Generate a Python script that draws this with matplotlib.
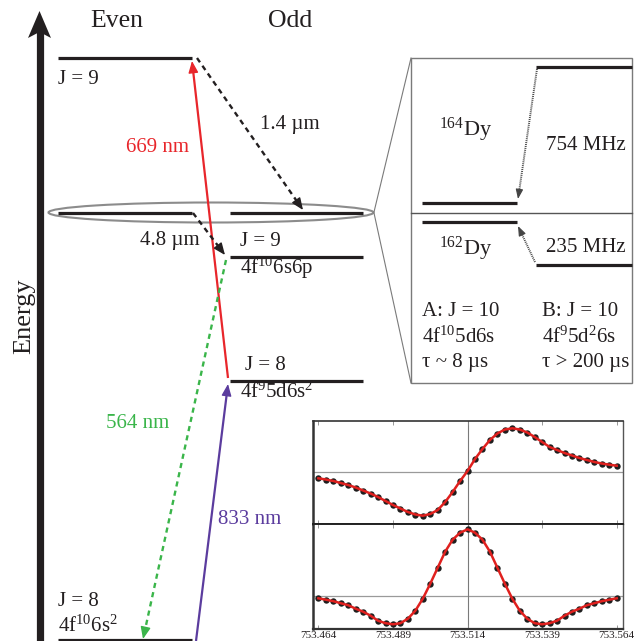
import numpy as np
import matplotlib
matplotlib.use('Agg')
import matplotlib.pyplot as plt
from matplotlib.patches import Ellipse, Rectangle, Polygon

plt.rcParams['font.family'] = 'Liberation Serif'
plt.rcParams['mathtext.fontset'] = 'custom'
plt.rcParams['mathtext.rm'] = 'Liberation Serif'
plt.rcParams['mathtext.it'] = 'Liberation Serif:italic'
plt.rcParams['mathtext.default'] = 'rm'

INK = '#231f20'
RED = '#e8262b'
GREEN = '#3ab54a'
PURPLE = '#5b3c9e'
GRAY = '#7a7a7a'

W, H = 637, 641

# energy levels of the diagram (x from, x to, y), y in pixels from top
level_x0 = [58, 58, 230, 230, 230, 58]
level_x1 = [192, 192, 363, 363, 363, 192]
level_y = [58, 213, 213, 257, 381, 640]

level_text = ['J = 9', 'J = 9', '4f$^{10}$6s6p', 'J = 8', '4f$^{9}$5d6s$^{2}$', 'J = 8', '4f$^{10}$6s$^{2}$']
level_text_xy = [(58, 79), (240, 242), (240, 268), (245, 366), (240, 392), (58, 601), (58, 626)]

# transitions: start, end, colour, dashed?, label, label position
trans_start = [(228, 378), (197, 58), (193, 213), (226, 260), (196, 641)]
trans_end = [(192, 61), (303, 210), (225, 255), (143, 639), (228, 384)]
trans_color = [RED, INK, INK, GREEN, PURPLE]
trans_dashed = [False, True, True, True, False]
trans_label = ['669 nm', '1.4 µm', '4.8 µm', '564 nm', '833 nm']
trans_label_xy = [(157, 147), (290, 124), (170, 240), (138, 424), (250, 519)]

# hyperfine / isotope box
box_levels_x0 = [536, 422, 422, 536]
box_levels_x1 = [632, 517, 517, 632]
box_levels_y = [67, 203, 222, 265]
box_shift = ['754 MHz', '235 MHz']
box_iso = ['$^{164}$Dy', '$^{162}$Dy']
state_a = ['A: J = 10', '4f$^{10}$5d6s', 'τ ~ 8 µs']
state_b = ['B: J = 10', '4f$^{9}$5d$^{2}$6s', 'τ > 200 µs']

# spectroscopy inset (wavelength in nm)
scan_ticks = [753.464, 753.489, 753.514, 753.539, 753.564]
scan_nm = np.linspace(753.464, 753.564, 41)
disp_signal = [-6.3, -7.5, -9, -11, -13, -15.5, -18.5, -21.5, -25, -29, -33,
               -36.5, -40, -42.5, -43.7, -42, -38, -30, -20, -9, 1, 13, 23,
               32, 38.5, 42.5, 43.7, 42.5, 39.5, 35, 30, 25, 22, 19, 16.5,
               14, 12, 10, 8.5, 7.3, 6.3]
abs_signal = [-2.6, -4, -5.5, -7.5, -9.5, -13, -16, -20, -25, -27.5, -28.6,
              -27.5, -23, -15, -3, 12, 28, 44, 56, 63, 66.4, 63, 56, 44, 28,
              12, -3, -15, -23, -27.5, -28.6, -27.5, -25, -20, -16, -13, -9.5,
              -7.5, -5.5, -4, -2.6]


def draw_arrow(ax, p0, p1, color, lw, dashed=False, dashes=(2.2, 1.8),
               hl=10, hw=4.2, ms=10):
    p0 = np.array(p0, float)
    p1 = np.array(p1, float)
    u = (p1 - p0) / np.hypot(*(p1 - p0))
    base = p1 - u * hl
    line, = ax.plot([p0[0], base[0] + u[0]], [p0[1], base[1] + u[1]],
                    color=color, lw=lw, solid_capstyle='butt')
    if dashed:
        line.set_dashes(dashes)
    k = ms * 100 / 72
    ax.annotate('', xy=p1, xytext=base,
                arrowprops=dict(arrowstyle='-|>,head_length=%.2f,head_width=%.2f' % (hl / k, hw / k),
                                color=color, lw=lw * 0.6, shrinkA=0, shrinkB=0,
                                mutation_scale=ms))


fig = plt.figure(figsize=(W / 100, H / 100), dpi=100)
ax = fig.add_axes([0, 0, 1, 1])
ax.set_xlim(0, W)
ax.set_ylim(H, 0)
ax.axis('off')

# energy axis
ax.plot([39.5, 39.5], [H, 30], color=INK, lw=5.2, solid_capstyle='butt')
ax.add_patch(Polygon([(39.5, 11), (28, 38), (39.5, 32), (51, 38)], closed=True,
                     color=INK, lw=0))
ax.text(24, 316, 'Energy', rotation=90, ha='center', va='center', fontsize=19, color=INK)
ax.text(117, 21, 'Even', ha='center', va='center', fontsize=18.5, color=INK)
ax.text(290, 21, 'Odd', ha='center', va='center', fontsize=18.5, color=INK)

for x0, x1, y in zip(level_x0, level_x1, level_y):
    ax.plot([x0, x1], [y, y], color=INK, lw=2.3, solid_capstyle='butt')
for txt, (x, y) in zip(level_text, level_text_xy):
    ax.text(x, y, txt, ha='left', va='center', fontsize=15, color=INK)

ax.add_patch(Ellipse((211, 212.5), 325, 20, fill=False, ec='#8c8c8c', lw=1.5))

for p0, p1, c, d, lab, (lx, ly) in zip(trans_start, trans_end, trans_color, trans_dashed,
                                        trans_label, trans_label_xy):
    draw_arrow(ax, p0, p1, c, 1.7 if d else 1.6, dashed=d)
    ax.text(lx, ly, lab, ha='center', va='center', fontsize=15, color=c)

# zoom box
ax.plot([374, 411], [212, 58], color=GRAY, lw=0.8)
ax.plot([374, 411], [213, 383], color=GRAY, lw=0.8)
ax.add_patch(Rectangle((411, 58), 221, 325, fill=False, ec=GRAY, lw=1))
ax.plot([411, 632], [213, 213], color='#555555', lw=1)
for x0, x1, y in zip(box_levels_x0, box_levels_x1, box_levels_y):
    ax.plot([x0, x1], [y, y], color=INK, lw=2.3, solid_capstyle='butt')
draw_arrow(ax, (537, 69), (518, 199), '#444444', 1.4, dashed=True, dashes=(0.5, 0.5),
           hl=8, hw=3)
draw_arrow(ax, (535, 262), (518, 226), '#444444', 1.4, dashed=True, dashes=(0.5, 0.5),
           hl=8, hw=3)
ax.text(466, 130, box_iso[0], ha='center', va='center', fontsize=16, color=INK)
ax.text(466, 249, box_iso[1], ha='center', va='center', fontsize=16, color=INK)
ax.text(586, 145, box_shift[0], ha='center', va='center', fontsize=15, color=INK)
ax.text(586, 248, box_shift[1], ha='center', va='center', fontsize=15, color=INK)
for i, (a, b) in enumerate(zip(state_a, state_b)):
    ax.text(422, 312 + 25 * i, a, ha='left', va='center', fontsize=15, color=INK)
    ax.text(542, 312 + 25 * i, b, ha='left', va='center', fontsize=15, color=INK)

# spectroscopy inset
x_lo, x_hi = 753.4622, 753.5661
ax_top = fig.add_axes([313 / W, (H - 524) / H, 310 / W, 103 / H])
ax_bot = fig.add_axes([313 / W, (H - 629) / H, 310 / W, 105 / H])
for a, sig, ylim in [(ax_top, disp_signal, (-52, 51)), (ax_bot, abs_signal, (-33.3, 71.7))]:
    a.set_xlim(x_lo, x_hi)
    a.set_ylim(*ylim)
    a.axhline(0, color='#9a9a9a', lw=0.9, zorder=1)
    a.axvline(753.514, color='#7a7a7a', lw=0.8, zorder=1)
    a.plot(scan_nm, sig, 'o', color='#1e1e1e', ms=4.6, mew=0, zorder=2)
    a.plot(scan_nm, sig, '-', color='#e0201e', lw=1.8, zorder=3)
    a.set_yticks([])
    a.set_xticks(scan_ticks)
    a.tick_params(axis='x', direction='in', length=3, width=0.6, color='#888888',
                  top=True, labelsize=8, labelcolor=INK, pad=1.5)
    a.spines['left'].set_linewidth(1.8)
    a.spines['left'].set_color('#333333')
    a.spines['right'].set_linewidth(1.0)
    a.spines['right'].set_color('#555555')
ax_top.tick_params(labelbottom=False)
ax_top.spines['top'].set_color('#333333')
ax_top.spines['top'].set_linewidth(1.2)
ax_top.spines['bottom'].set_linewidth(1.4)
ax_top.spines['bottom'].set_color('#222222')
ax_bot.spines['top'].set_linewidth(1.4)
ax_bot.spines['top'].set_color('#222222')
ax_bot.spines['bottom'].set_linewidth(1.6)
ax_bot.spines['bottom'].set_color('#333333')

fig.savefig('out.png', dpi=100)
